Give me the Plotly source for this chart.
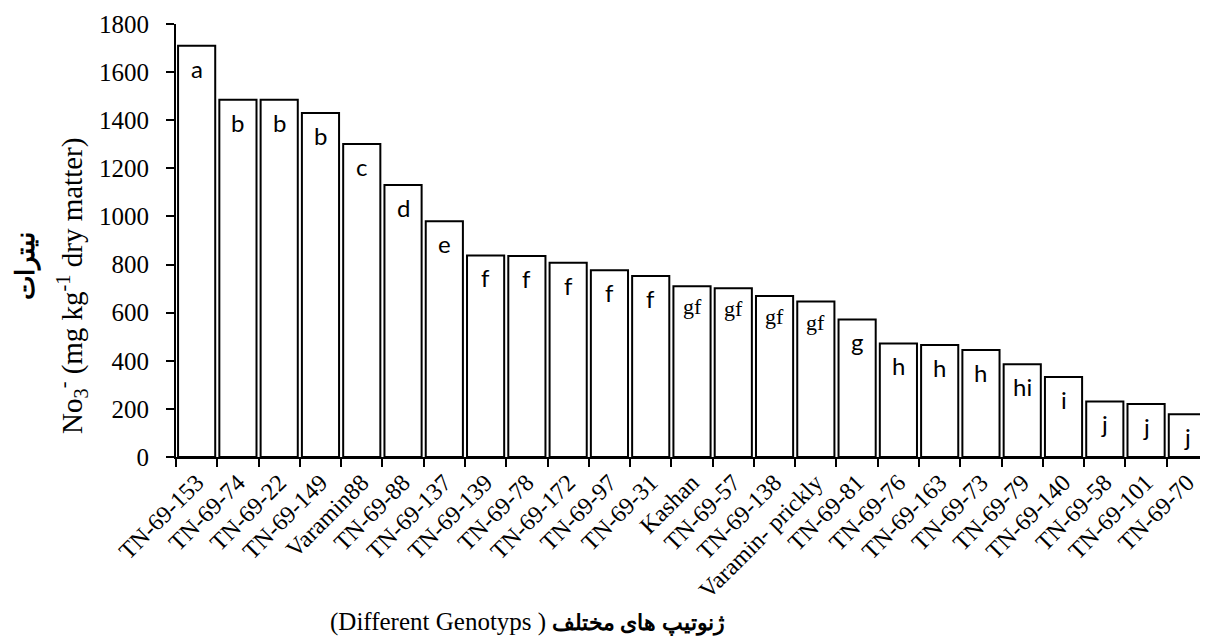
import plotly.graph_objects as go

genotypes = ["TN-69-153", "TN-69-74", "TN-69-22", "TN-69-149", "Varamin88", "TN-69-88",
             "TN-69-137", "TN-69-139", "TN-69-78", "TN-69-172", "TN-69-97", "TN-69-31",
             "Kashan", "TN-69-57", "TN-69-138", "Varamin- prickly", "TN-69-81", "TN-69-76",
             "TN-69-163", "TN-69-73", "TN-69-79", "TN-69-140", "TN-69-58", "TN-69-101", "TN-69-70"]
nitrate = [1710, 1485, 1485, 1430, 1301, 1131, 980, 838, 836, 807, 776, 752,
           710, 701, 669, 646, 572, 472, 466, 445, 386, 333, 231, 220, 178]
letters = ["a", "b", "b", "b", "c", "d", "e", "f", "f", "f", "f", "f",
           "gf", "gf", "gf", "gf", "g", "h", "h", "h", "hi", "i", "j", "j", "j"]
y_ticks = [0, 200, 400, 600, 800, 1000, 1200, 1400, 1600, 1800]

SERIF = "Liberation Serif, Times New Roman, serif"
SANS = "Lato, Liberation Sans, sans-serif"

fig = go.Figure()
fig.add_trace(go.Bar(
    x=genotypes, y=nitrate,
    marker=dict(color="white", line=dict(color="black", width=2)),
    hoverinfo="x+y",
))

annotations = []
for g, v, l in zip(genotypes, nitrate, letters):
    serif = l == "gf"
    annotations.append(dict(
        x=g, y=v, xref="x", yref="y", text=l, showarrow=False,
        yanchor="top", yshift=-6,
        font=dict(family=SERIF if serif else SANS, size=22 if serif else 24, color="black"),
    ))

annotations.append(dict(
    xref="paper", yref="paper", x=0, y=0.395, xshift=-104,
    text="No<sub>3</sub><sup>-</sup> (mg kg<sup>-1</sup> dry matter)",
    textangle=-90, showarrow=False, xanchor="center", yanchor="middle",
    font=dict(family=SERIF, size=29, color="black"),
))
annotations.append(dict(
    xref="paper", yref="paper", x=0, y=0.44, xshift=-150,
    text="<b>نیترات</b>",
    textangle=-90, showarrow=False, xanchor="center", yanchor="middle",
    font=dict(family=SERIF, size=26, color="black"),
))
annotations.append(dict(
    xref="paper", yref="paper", x=0.341, y=0, yshift=-165,
    text="<span style='font-size:25px'>(Different Genotyps )</span> <b>ژنوتیپ های مختلف</b>",
    showarrow=False, xanchor="center", yanchor="middle",
    font=dict(family=SERIF, size=22, color="black"),
))

# page body has an 8px default margin, so the figure is sized to fit the window
fig.update_layout(
    width=1200, height=632,
    margin=dict(l=168, r=0, t=16, b=183),
    paper_bgcolor="white", plot_bgcolor="white",
    bargap=0.1,
    showlegend=False,
    annotations=annotations,
    xaxis=dict(
        type="category", tickangle=-45, showline=True, linecolor="black", linewidth=2,
        ticks="outside", tickson="boundaries", ticklen=8, tickcolor="black", tickwidth=2,
        tickfont=dict(family=SERIF, size=24, color="black"), showgrid=False,
        automargin=False,
    ),
    yaxis=dict(
        range=[0, 1800], tickvals=y_ticks, showline=True, linecolor="black", linewidth=2,
        ticks="outside", ticklen=8, tickcolor="black", tickwidth=2, showgrid=False,
        tickfont=dict(family=SERIF, size=25, color="black"), zeroline=False,
        ticklabelstandoff=12, automargin=False,
    ),
)

fig.write_html("out.html")
